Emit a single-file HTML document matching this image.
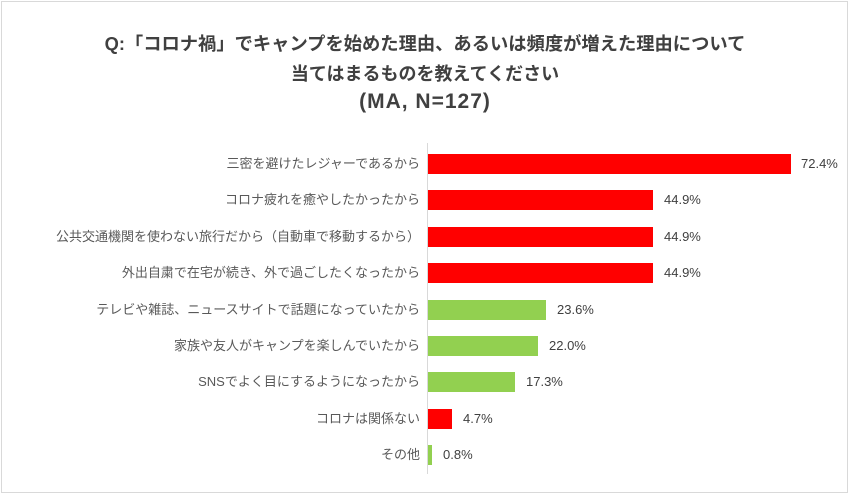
<!DOCTYPE html>
<html><head><meta charset="utf-8"><style>
body{margin:0;background:#fff;}
.wrap{position:relative;width:850px;height:494px;overflow:hidden;font-family:"Liberation Sans","Noto Sans CJK JP",sans-serif;}
.border{position:absolute;left:1px;top:1px;width:845px;height:490px;border:1px solid #d9d9d9;}
.t{position:absolute;left:0;width:850px;text-align:center;font-weight:bold;font-size:18px;color:#404040;}
.lab{position:absolute;right:430px;font-size:13px;color:#595959;white-space:nowrap;line-height:20px;}
.bar{position:absolute;left:428px;height:20px;}
.val{position:absolute;font-size:13px;color:#404040;line-height:20px;}
.axis{position:absolute;left:427px;top:143px;width:1px;height:331px;background:#d9d9d9;}
</style></head><body><div class="wrap">
<div class="border"></div>
<div class="t" style="top:30px;font-size:18.3px">Q:「コロナ禍」でキャンプを始めた理由、あるいは頻度が増えた理由について</div>
<div class="t" style="top:60px">当てはまるものを教えてください</div>
<div class="t" style="top:90px;font-size:21px;letter-spacing:1px">(MA, N=127)</div>
<div class="axis"></div>

<div class="lab" style="top:154px">三密を避けたレジャーであるから</div>
<div class="bar" style="top:154px;width:363px;background:#ff0000"></div>
<div class="val" style="top:154px;left:801px">72.4%</div>

<div class="lab" style="top:190px">コロナ疲れを癒やしたかったから</div>
<div class="bar" style="top:190px;width:225px;background:#ff0000"></div>
<div class="val" style="top:190px;left:664px">44.9%</div>

<div class="lab" style="top:227px">公共交通機関を使わない旅行だから（自動車で移動するから）</div>
<div class="bar" style="top:227px;width:225px;background:#ff0000"></div>
<div class="val" style="top:227px;left:664px">44.9%</div>

<div class="lab" style="top:263px">外出自粛で在宅が続き、外で過ごしたくなったから</div>
<div class="bar" style="top:263px;width:225px;background:#ff0000"></div>
<div class="val" style="top:263px;left:664px">44.9%</div>

<div class="lab" style="top:300px">テレビや雑誌、ニュースサイトで話題になっていたから</div>
<div class="bar" style="top:300px;width:118px;background:#92d050"></div>
<div class="val" style="top:300px;left:557px">23.6%</div>

<div class="lab" style="top:336px">家族や友人がキャンプを楽しんでいたから</div>
<div class="bar" style="top:336px;width:110px;background:#92d050"></div>
<div class="val" style="top:336px;left:549px">22.0%</div>

<div class="lab" style="top:372px">SNSでよく目にするようになったから</div>
<div class="bar" style="top:372px;width:87px;background:#92d050"></div>
<div class="val" style="top:372px;left:526px">17.3%</div>

<div class="lab" style="top:409px">コロナは関係ない</div>
<div class="bar" style="top:409px;width:24px;background:#ff0000"></div>
<div class="val" style="top:409px;left:463px">4.7%</div>

<div class="lab" style="top:445px">その他</div>
<div class="bar" style="top:445px;width:4px;background:#92d050"></div>
<div class="val" style="top:445px;left:443px">0.8%</div>
</div></body></html>
